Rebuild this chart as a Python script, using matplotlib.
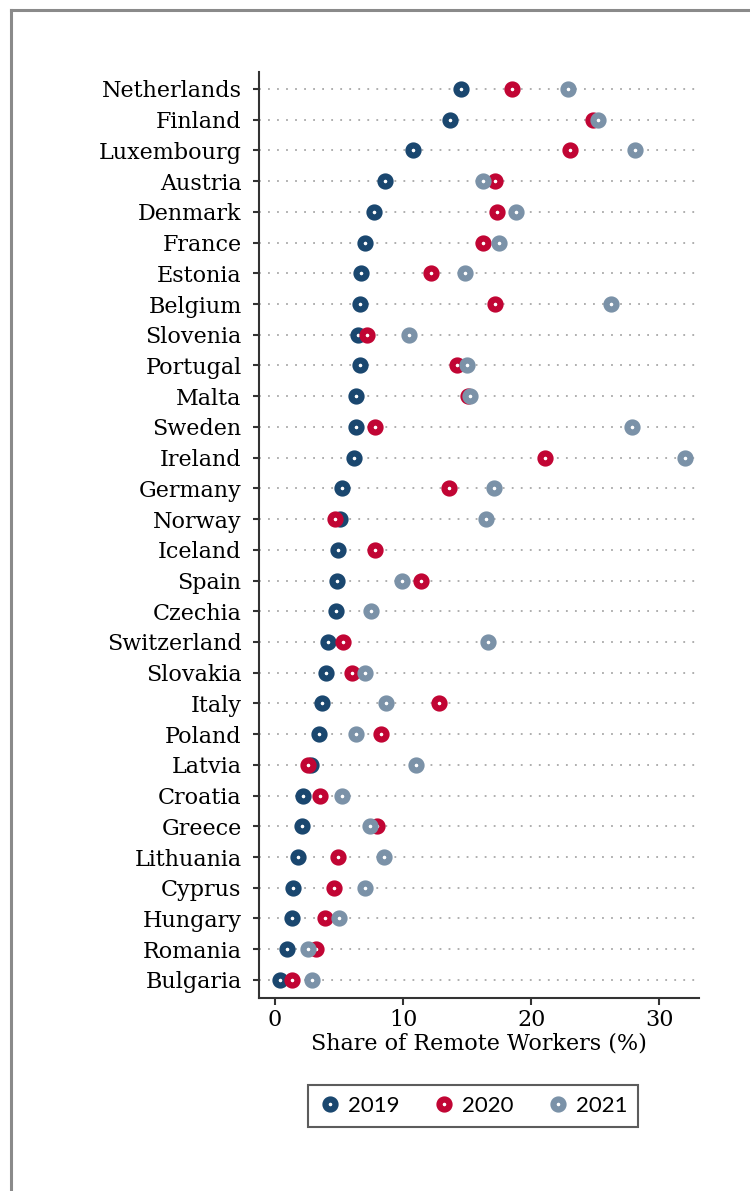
import numpy as np
import matplotlib.pyplot as plt
from matplotlib.lines import Line2D

countries = ["Netherlands", "Finland", "Luxembourg", "Austria", "Denmark", "France",
             "Estonia", "Belgium", "Slovenia", "Portugal", "Malta", "Sweden", "Ireland",
             "Germany", "Norway", "Iceland", "Spain", "Czechia", "Switzerland", "Slovakia",
             "Italy", "Poland", "Latvia", "Croatia", "Greece", "Lithuania", "Cyprus",
             "Hungary", "Romania", "Bulgaria"]

y2019 = [14.5, 13.7, 10.8, 8.6, 7.7, 7.0, 6.7, 6.6, 6.5, 6.6, 6.3, 6.3, 6.2,
         5.2, 5.1, 4.9, 4.85, 4.8, 4.15, 3.95, 3.65, 3.4, 2.8, 2.2, 2.1, 1.8, 1.4,
         1.3, 0.9, 0.4]
y2020 = [18.5, 24.8, 23.0, 17.2, 17.3, 16.2, 12.2, 17.2, 7.2, 14.2, 15.1, 7.8, 21.1,
         13.6, 4.7, 7.8, 11.4, np.nan, 5.3, 6.0, 12.8, 8.3, 2.6, 3.5, 8.0, 4.9, 4.6,
         3.9, 3.2, 1.35]
y2021 = [22.9, 25.2, 28.1, 16.2, 18.8, 17.5, 14.8, 26.2, 10.5, 15.0, 15.2, 27.9, 32.0,
         17.1, 16.5, np.nan, 9.9, 7.5, 16.6, 7.0, 8.7, 6.3, 11.0, 5.2, 7.4, 8.5, 7.0,
         5.0, 2.6, 2.9]

years = ["2019", "2020", "2021"]
colors = ["#1a476f", "#c10534", "#7b92a8"]

fig = plt.figure(figsize=(7.5, 11.91), dpi=100)
ax = fig.add_axes([0.3453, 0.162, 0.5867, 0.7775])

n = len(countries)
ypos = np.arange(n)[::-1]

ax.hlines(ypos, -1.25, 33.1, colors="#a8a8a8", linestyles=(0, (1, 4)), lw=1.3, zorder=1)

for vals, col, lab in zip([y2019, y2020, y2021], colors, years):
    ax.plot(vals, ypos, ls="none", marker="o", ms=7.2, mew=4.5,
            mec=col, mfc="white", zorder=3, label=lab)

ax.set_xlim(-1.25, 33.1)
ax.set_ylim(-0.59, n - 1 + 0.55)
ax.set_yticks(ypos)
ax.set_yticklabels(countries, family="DejaVu Serif", fontsize=16)
ax.set_xticks([0, 10, 20, 30])
ax.set_xticklabels(["0", "10", "20", "30"], family="DejaVu Serif", fontsize=16)
ax.set_xlabel("Share of Remote Workers (%)", family="DejaVu Serif", fontsize=16, labelpad=1)

for s in ["top", "right"]:
    ax.spines[s].set_visible(False)
for s in ["left", "bottom"]:
    ax.spines[s].set_color("#333333")
    ax.spines[s].set_linewidth(1.5)
ax.tick_params(axis="x", length=5, width=1.5, color="#333333", pad=3)
ax.tick_params(axis="y", length=4.5, width=1.5, color="#333333", pad=8)

handles = [Line2D([], [], ls="none", marker="o", ms=7.2, mew=4.5, mec=c, mfc="white")
           for c in colors]
leg = fig.legend(handles, years, loc="center", bbox_to_anchor=(0.631, 0.0714), ncol=3,
                 frameon=True, fancybox=False, edgecolor="#333333",
                 prop={"family": "Lato", "size": 16}, handletextpad=0.3,
                 columnspacing=1.5, handlelength=1.0, borderpad=0.5)
leg.get_frame().set_linewidth(1.5)

# outer frame (left and top only visible)
fig.add_artist(Line2D([0.0147, 0.0147], [0, 0.9916], transform=fig.transFigure,
                      color="#8a8a8a", lw=2.2))
fig.add_artist(Line2D([0.0147, 1.0], [0.9916, 0.9916], transform=fig.transFigure,
                      color="#8a8a8a", lw=2.2))

fig.savefig("out.png", dpi=100)
